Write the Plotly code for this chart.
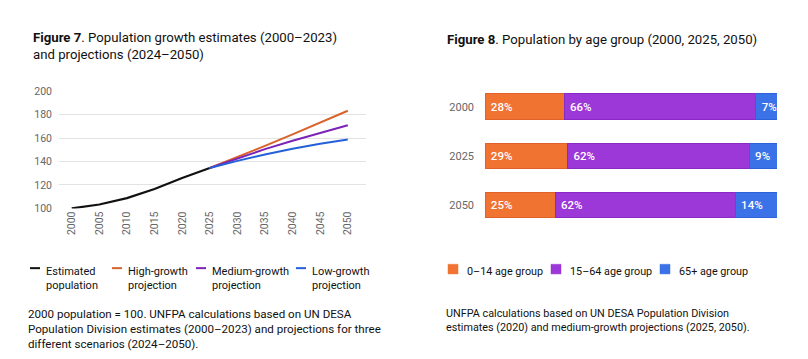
import plotly.graph_objects as go

# ---- Figure 7 data ----
est_years = [2000, 2005, 2010, 2015, 2020, 2025]
est_values = [100, 103.3, 108.8, 116.6, 126, 134.5]
proj_years = [2025, 2030, 2035, 2040, 2045, 2050]
high_values = [134.5, 143.8, 153.4, 163.2, 173.2, 183.4]
medium_values = [134.5, 142.6, 150.6, 157.8, 164.6, 171.0]
low_values = [134.5, 140.6, 146.0, 151.0, 155.2, 158.8]
x_ticks = [2000, 2005, 2010, 2015, 2020, 2025, 2030, 2035, 2040, 2045, 2050]
y_ticks = [100, 120, 140, 160, 180, 200]

# ---- Figure 8 data ----
years8 = ["2000", "2025", "2050"]
share_0_14 = [27.1, 28.3, 24.0]
share_15_64 = [65.7, 62.2, 61.7]
share_65 = [7.2, 9.5, 14.3]
label_0_14 = ["28%", "29%", "25%"]
label_15_64 = ["66%", "62%", "62%"]
label_65 = ["7%", "9%", "14%"]

title7 = ["<b>Figure 7</b>. Population growth estimates (2000–2023)", "and projections (2024–2050)"]
title8 = "<b>Figure 8</b>. Population by age group (2000, 2025, 2050)"
note7 = ["2000 population = 100. UNFPA calculations based on UN DESA",
         "Population Division estimates (2000–2023) and projections for three",
         "different scenarios (2024–2050)."]
note8 = ["UNFPA calculations based on UN DESA Population Division",
         "estimates (2020) and medium-growth projections (2025, 2050)."]
legend7 = [["Estimated", "population"], ["High-growth", "projection"],
           ["Medium-growth", "projection"], ["Low-growth", "projection"]]
legend8 = ["0–14 age group", "15–64 age group", "65+ age group"]

FONT = "Roboto"
W, H = 808, 359

C_EST = "#111111"
C_HIGH = "#D9622A"
C_MED = "#7B22B8"
C_LOW = "#2460D8"
B_ORANGE = "#F07331"
B_PURPLE = "#9C37D8"
B_BLUE = "#3B72E8"

fig = go.Figure()

fig.add_trace(go.Scatter(x=est_years, y=est_values, mode="lines", line=dict(color=C_EST, width=2.2),
                         xaxis="x", yaxis="y", showlegend=False))
fig.add_trace(go.Scatter(x=proj_years, y=high_values, mode="lines", line=dict(color=C_HIGH, width=2),
                         xaxis="x", yaxis="y", showlegend=False))
fig.add_trace(go.Scatter(x=proj_years, y=medium_values, mode="lines", line=dict(color=C_MED, width=2),
                         xaxis="x", yaxis="y", showlegend=False))
fig.add_trace(go.Scatter(x=proj_years, y=low_values, mode="lines", line=dict(color=C_LOW, width=2),
                         xaxis="x", yaxis="y", showlegend=False))

for vals, labs, col, border in [(share_0_14, label_0_14, B_ORANGE, "#E0612A"),
                                (share_15_64, label_15_64, B_PURPLE, "#8A2AC6"),
                                (share_65, label_65, B_BLUE, "#2E62D6")]:
    fig.add_trace(go.Bar(y=years8, x=vals, orientation="h",
                         marker=dict(color=col, line=dict(color=border, width=1)),
                         text=labs, textposition="inside", insidetextanchor="start",
                         textangle=0, constraintext="none",
                         textfont=dict(color="white", size=11.5, family=FONT, weight=500),
                         texttemplate=" %{text}",
                         xaxis="x2", yaxis="y2", showlegend=False, hoverinfo="skip"))


def px_x(p):
    return p / W


def px_y(p):
    return 1 - p / H


fig.update_layout(
    width=W, height=H,
    margin=dict(l=0, r=0, t=0, b=0),
    paper_bgcolor="white", plot_bgcolor="white",
    font=dict(family=FONT, color="#222"),
    barmode="stack", bargap=0.48,
    xaxis=dict(domain=[px_x(59), px_x(366)], range=[1997.7, 2053.3], tickvals=x_ticks, tickangle=-90,
               showgrid=False, zeroline=False, showline=False, ticks="",
               tickfont=dict(size=10.5, color="#666", family=FONT), anchor="y"),
    yaxis=dict(domain=[px_y(210), px_y(88.5)], range=[100, 200], tickvals=y_ticks,
               showgrid=True, gridcolor="#E3E3E3", gridwidth=1, zeroline=False, showline=False, ticks="",
               tickfont=dict(size=10.5, color="#666", family=FONT), anchor="x", ticklabelstandoff=6),
    xaxis2=dict(domain=[px_x(485), px_x(777)], range=[0, 100], visible=False, anchor="y2"),
    yaxis2=dict(domain=[px_y(232), px_y(79)], autorange="reversed", showgrid=False, zeroline=False,
                showline=False, ticks="", tickfont=dict(size=11, color="#666", family=FONT), anchor="x2",
                ticklabelstandoff=10),
)

ann = []
shapes = []


def text_at(x, y, txt, size, color="#111"):
    ann.append(dict(x=px_x(x), y=px_y(y), xref="paper", yref="paper", xanchor="left", yanchor="middle",
                    align="left", showarrow=False, text=txt, borderpad=0,
                    font=dict(size=size, color=color, family=FONT)))


# Titles
text_at(32, 42, "<br>".join(title7), 13.2)
text_at(446, 35, title8, 13.2)

# Left legend
leg1_x = [30, 112, 196, 296]
leg1_c = [C_EST, C_HIGH, C_MED, C_LOW]
for x0, lines, col in zip(leg1_x, legend7, leg1_c):
    shapes.append(dict(type="line", xref="paper", yref="paper", x0=px_x(x0), x1=px_x(x0 + 10),
                       y0=px_y(272), y1=px_y(272), line=dict(color=col, width=2)))
    text_at(x0 + 15, 282.5, "<br>".join(lines), 11)

# Right legend
leg2_x = [448, 551, 660]
leg2_c = [B_ORANGE, B_PURPLE, B_BLUE]
for x0, txt, col in zip(leg2_x, legend8, leg2_c):
    shapes.append(dict(type="rect", xref="paper", yref="paper", x0=px_x(x0), x1=px_x(x0 + 10),
                       y0=px_y(268), y1=px_y(278), fillcolor=col, line=dict(color=col, width=0.5)))
    text_at(x0 + 18, 275.5, txt, 10.8)

# Notes
text_at(27, 335, "<br>".join(note7), 11.6)
text_at(445, 326.5, "<br>".join(note8), 10.8)

fig.update_layout(annotations=ann, shapes=shapes)
fig.write_html("out.html", config={"displayModeBar": False},
               post_script="document.body.style.margin='0';")
